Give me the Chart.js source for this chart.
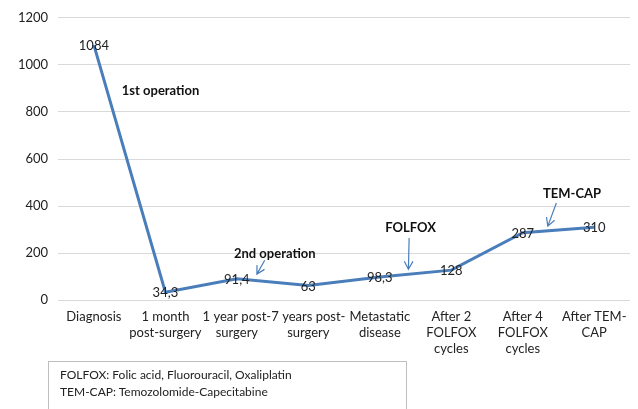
<!DOCTYPE html>
<html>
<head>
<meta charset="utf-8">
<script src="https://cdn.jsdelivr.net/npm/chart.js@4/dist/chart.umd.min.js"></script>
<style>
  html, body { margin:0; padding:0; background:#fff; }
  #wrap { position:relative; width:638px; height:409px; overflow:hidden; }
  #note {
    position:absolute; left:48px; top:361px; width:359px; height:60px;
    border:1px solid #bfbfbf; box-sizing:border-box;
    font-family:Lato, "Open Sans", sans-serif; font-size:12px; color:#222;
    padding:4px 0 0 11px; line-height:17px;
  }
</style>
</head>
<body>
<div id="wrap">
  <canvas id="chart" width="638" height="409"></canvas>
  <div id="note">FOLFOX: Folic acid, Fluorouracil, Oxaliplatin<br>TEM-CAP: Temozolomide-Capecitabine</div>
</div>
<script>
// Datos
const categories = [
  'Diagnosis',
  ['1 month', 'post-surgery'],
  ['1 year post-', 'surgery'],
  ['7 years post-', 'surgery'],
  ['Metastatic', 'disease'],
  ['After 2', 'FOLFOX', 'cycles'],
  ['After 4', 'FOLFOX', 'cycles'],
  ['After TEM-', 'CAP']
];
const values = [1084, 34.3, 91.4, 63, 98.3, 128, 287, 310];
const yTicks = [0, 200, 400, 600, 800, 1000, 1200];

// Anotaciones (posicion en indice de categoria / valor)
const notes = [
  { text:'1st operation', x:0.39, y:889, align:'left' },
  { text:'2nd operation', x:2.53, y:196, align:'center', arrow:[2.39, 170, 2.28, 111] },
  { text:'FOLFOX', x:4.43, y:306, align:'center', arrow:[4.41, 264, 4.40, 132] },
  { text:'TEM-CAP', x:6.69, y:451, align:'center', arrow:[6.47, 413, 6.35, 315] }
];

const FONT = 'Lato, "Open Sans", sans-serif';

const labelPlugin = {
  id:'pointLabels',
  afterDatasetsDraw(chart){
    const ctx = chart.ctx;
    const meta = chart.getDatasetMeta(0);
    ctx.save();
    ctx.font = '13px ' + FONT;
    ctx.fillStyle = '#222';
    ctx.textAlign = 'center';
    ctx.textBaseline = 'middle';
    meta.data.forEach((pt, i) => {
      ctx.fillText(String(values[i]).replace('.', ','), pt.x, pt.y + 1);
    });

    const xs = chart.scales.x, ys = chart.scales.y;
    notes.forEach(n => {
      ctx.font = 'bold 13px ' + FONT;
      ctx.fillStyle = '#111';
      ctx.textAlign = n.align;
      ctx.fillText(n.text, xs.getPixelForValue(n.x), ys.getPixelForValue(n.y));
      if (n.arrow) {
        const x1 = xs.getPixelForValue(n.arrow[0]), y1 = ys.getPixelForValue(n.arrow[1]);
        const x2 = xs.getPixelForValue(n.arrow[2]), y2 = ys.getPixelForValue(n.arrow[3]);
        ctx.strokeStyle = '#4a7ebb';
        ctx.lineWidth = 1.2;
        ctx.beginPath();
        ctx.moveTo(x1, y1);
        ctx.lineTo(x2, y2);
        const a = Math.atan2(y2 - y1, x2 - x1);
        const h = 9;
        ctx.moveTo(x2 - h*Math.cos(a - 0.5), y2 - h*Math.sin(a - 0.5));
        ctx.lineTo(x2, y2);
        ctx.lineTo(x2 - h*Math.cos(a + 0.5), y2 - h*Math.sin(a + 0.5));
        ctx.stroke();
      }
    });
    ctx.restore();
  }
};

new Chart(document.getElementById('chart').getContext('2d'), {
  type:'line',
  data:{
    labels:categories,
    datasets:[{
      data:values,
      borderColor:'#4a7ebb',
      borderWidth:3,
      pointRadius:0,
      tension:0,
      fill:false
    }]
  },
  options:{
    responsive:false,
    animation:false,
    layout:{ padding:{ left:8, right:8, top:10, bottom:52 } },
    plugins:{ legend:{ display:false }, tooltip:{ enabled:false } },
    scales:{
      x:{
        offset:true,
        grid:{ display:false },
        border:{ display:false },
        ticks:{ color:'#222', font:{ family:FONT, size:13, lineHeight:1.25 }, maxRotation:0, autoSkip:false, padding:0 }
      },
      y:{
        min:0, max:1200,
        afterBuildTicks(axis){ axis.ticks = yTicks.map(v => ({ value:v })); },
        grid:{ color:'#d9d9d9', drawTicks:false },
        border:{ display:false },
        ticks:{ color:'#222', font:{ family:FONT, size:13 }, padding:10, callback:v => String(v) }
      }
    }
  },
  plugins:[labelPlugin]
});
</script>
</body>
</html>
